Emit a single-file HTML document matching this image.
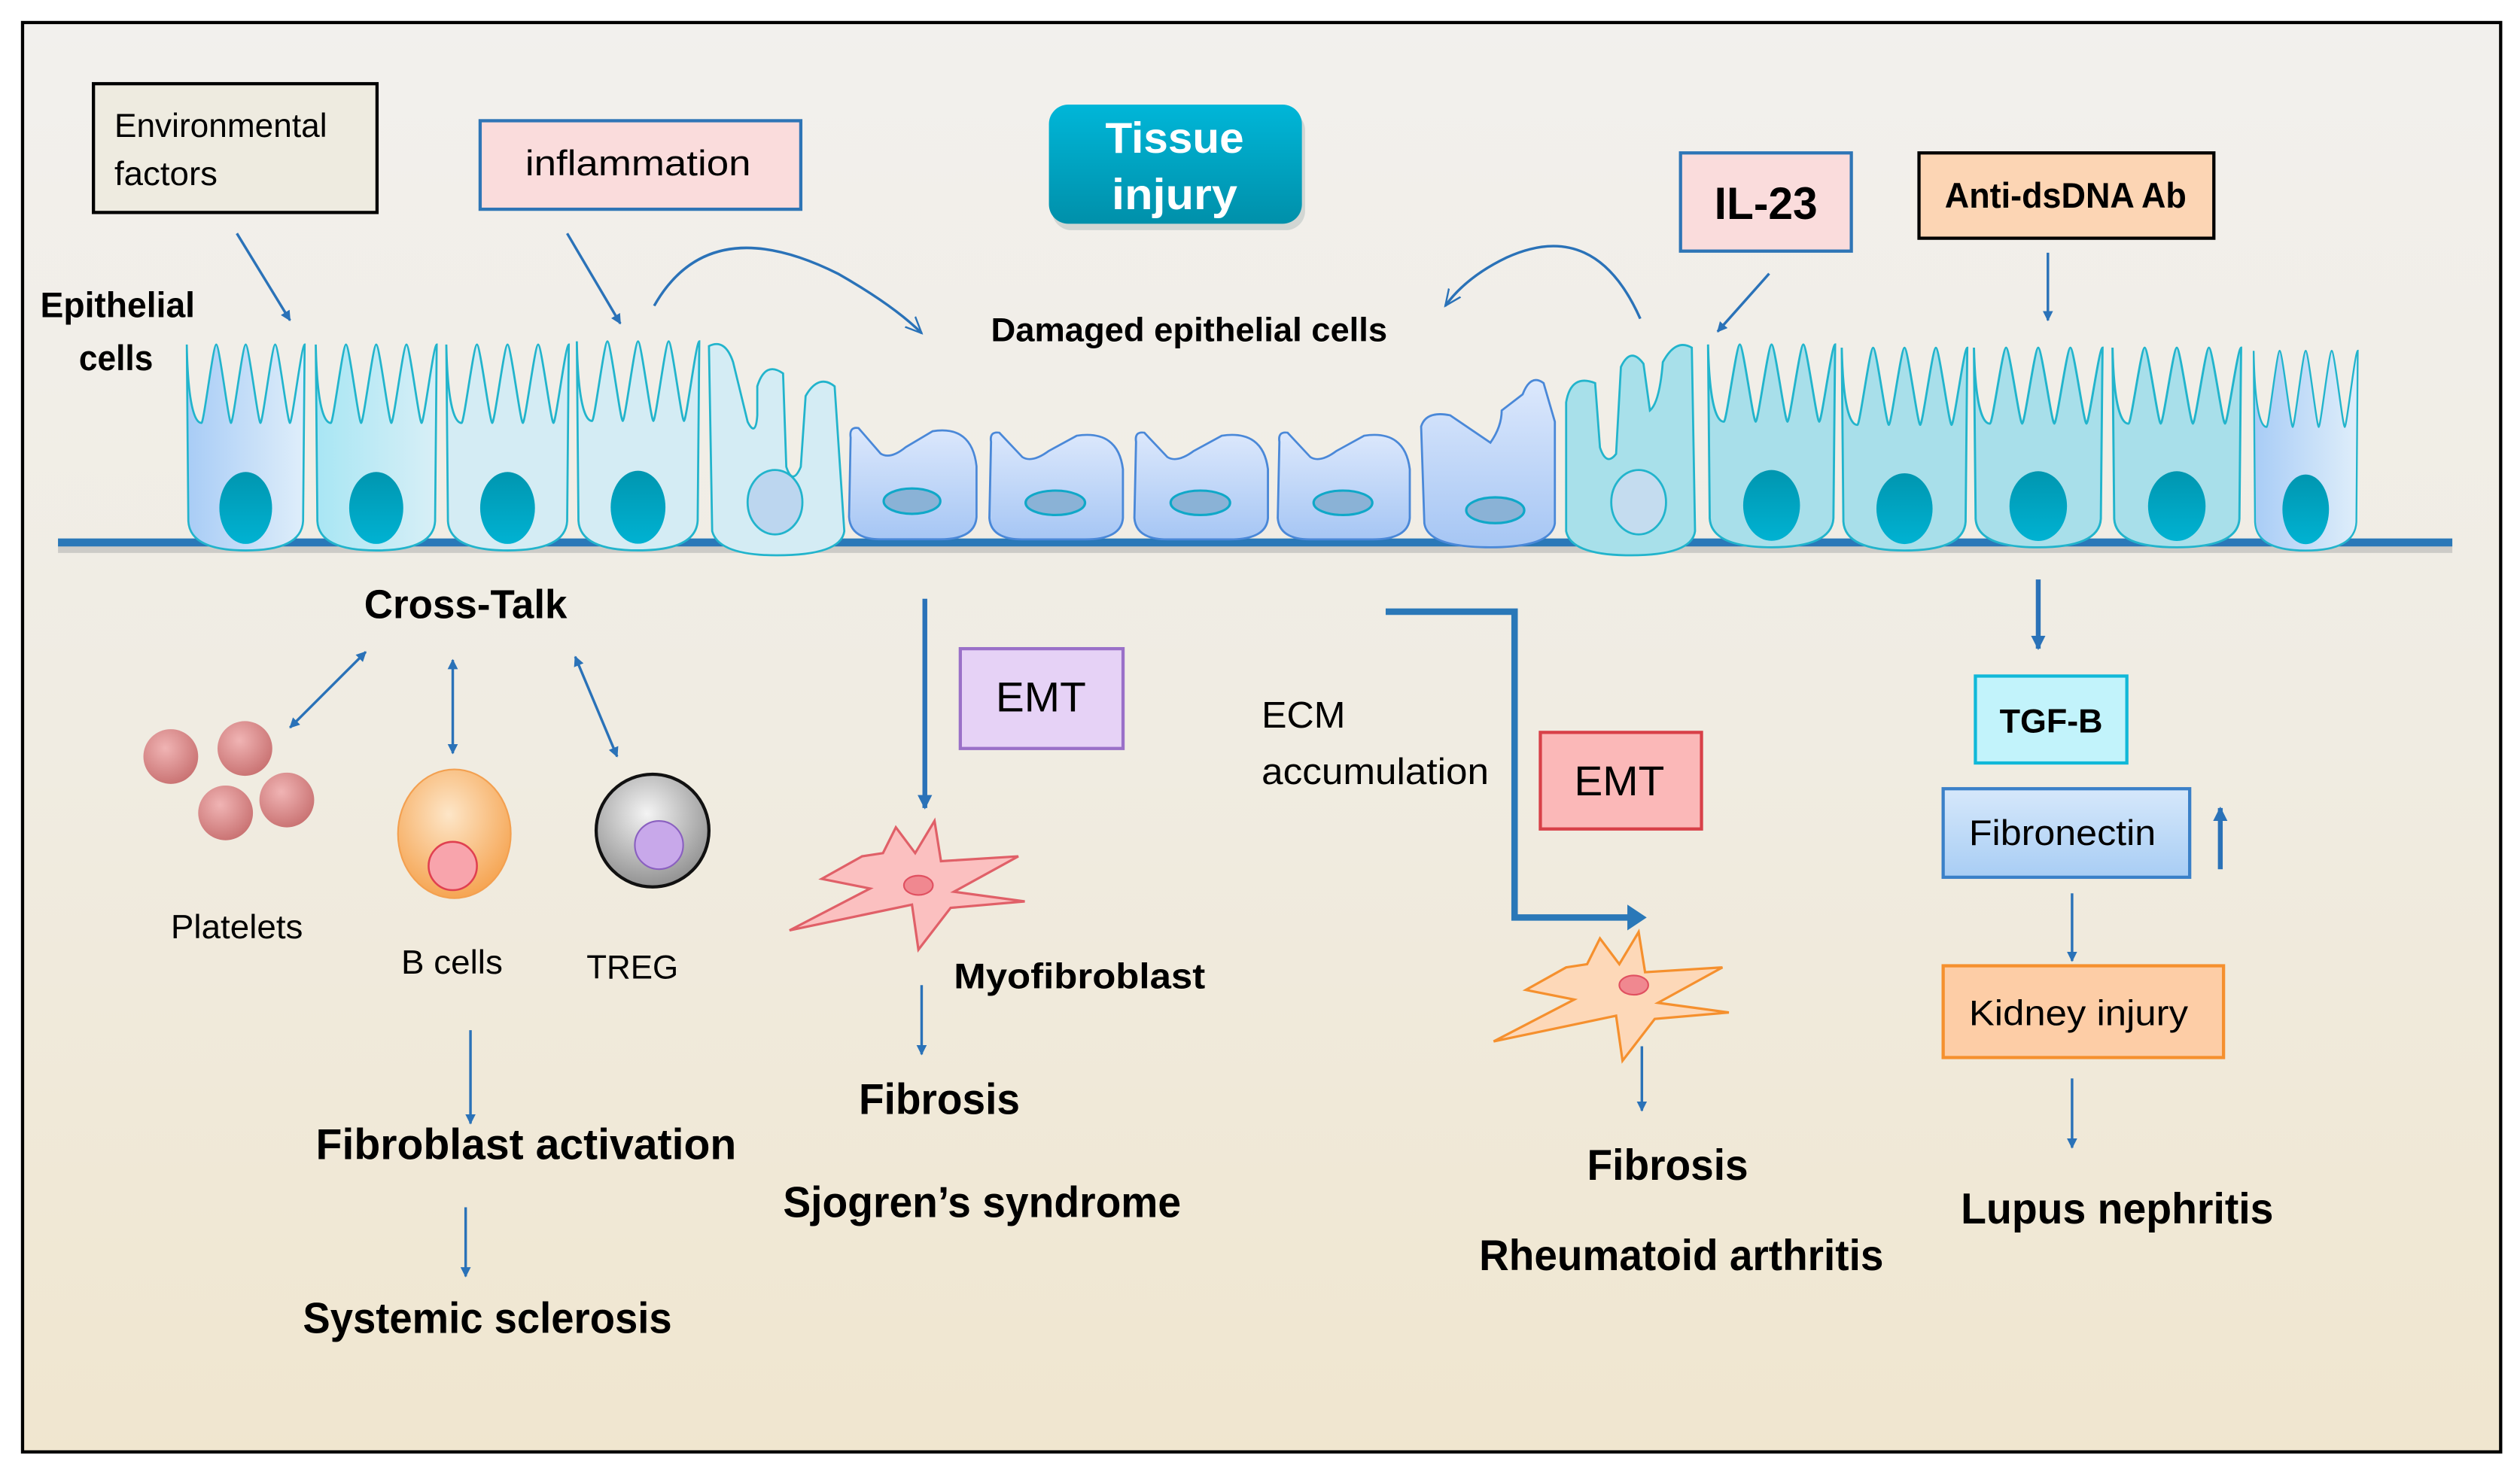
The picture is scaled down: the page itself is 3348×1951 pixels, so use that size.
<!DOCTYPE html>
<html><head><meta charset="utf-8"><style>html,body{margin:0;padding:0;background:#fff}svg{display:block}text{font-family:"Liberation Sans",sans-serif}</style></head><body>
<svg width="3348" height="1951" viewBox="0 0 1564 912" preserveAspectRatio="none" xmlns="http://www.w3.org/2000/svg">
<defs>
<linearGradient id="bg" x1="0" y1="0" x2="0" y2="1"><stop offset="0" stop-color="#f2f0ed"/><stop offset="0.5" stop-color="#f0ece2"/><stop offset="1" stop-color="#f0e6cf"/></linearGradient>
<linearGradient id="tis" x1="0" y1="0" x2="0" y2="1"><stop offset="0" stop-color="#00b6d8"/><stop offset="1" stop-color="#0090aa"/></linearGradient>
<linearGradient id="cellA" x1="0" y1="0" x2="1" y2="0"><stop offset="0" stop-color="#a8ccf6"/><stop offset="1" stop-color="#dfeefa"/></linearGradient>
<linearGradient id="cellB" x1="0" y1="0" x2="1" y2="0"><stop offset="0" stop-color="#a8e6f4"/><stop offset="1" stop-color="#d8eff6"/></linearGradient>
<linearGradient id="cellD" x1="0" y1="0" x2="0" y2="1"><stop offset="0" stop-color="#dce8fc"/><stop offset="1" stop-color="#a6c6f4"/></linearGradient>
<linearGradient id="nuc" x1="0" y1="0" x2="0" y2="1"><stop offset="0" stop-color="#0096b0"/><stop offset="1" stop-color="#00b2d2"/></linearGradient>
<linearGradient id="fib" x1="0" y1="0" x2="0" y2="1"><stop offset="0" stop-color="#d6e8fb"/><stop offset="1" stop-color="#a8cdf4"/></linearGradient>
<radialGradient id="plt" cx="0.4" cy="0.35" r="0.7"><stop offset="0" stop-color="#f0b4b4"/><stop offset="1" stop-color="#c87070"/></radialGradient>
<radialGradient id="bc" cx="0.45" cy="0.35" r="0.7"><stop offset="0" stop-color="#fde6c8"/><stop offset="1" stop-color="#f5a04a"/></radialGradient>
<radialGradient id="tr" cx="0.45" cy="0.35" r="0.7"><stop offset="0" stop-color="#f4f4f4"/><stop offset="1" stop-color="#8a8a8a"/></radialGradient>
<marker id="ah" viewBox="0 0 10 10" refX="9" refY="5" markerWidth="4" markerHeight="4" orient="auto-start-reverse"><path d="M0,0 L10,5 L0,10 Z" fill="#2a72b8"/></marker>
<marker id="ah2" viewBox="0 0 10 10" refX="9" refY="5" markerWidth="3" markerHeight="3" orient="auto"><path d="M0,0 L10,5 L0,10 Z" fill="#2a72b8"/></marker>
<marker id="open" viewBox="0 0 10 10" refX="9" refY="5" markerWidth="7" markerHeight="7" orient="auto"><path d="M0,1 L9,5 L0,9" fill="none" stroke="#2a72b8" stroke-width="1"/></marker>
<symbol id="tall" viewBox="0 0 80 130" preserveAspectRatio="none" overflow="visible">
<path d="M2,2 C3,50 10,50 11.5,50 C13,50 19,2 21,2 C23,2 29,50 30.5,50 C32,50 38,2 40,2 C42,2 48,50 49.5,50 C51,50 57,2 59,2 C61,2 67,50 68.5,50 C70,50 76,2 78,2 L77,110 Q76,128 40,128 Q4,128 3,110 Z" stroke="#22b4cc" stroke-width="1.3"/>
<ellipse cx="40" cy="102" rx="17" ry="22" fill="url(#nuc)"/>
</symbol>
<symbol id="dmg" viewBox="0 0 86 76" preserveAspectRatio="none" overflow="visible">
<path d="M3,10 Q2,3 8,4 L22,20 Q28,24 38,16 L55,6 Q80,2 83,28 L83,60 Q82,74 60,74 L22,74 Q3,74 2,60 Z" fill="url(#cellD)" stroke="#4a88d8" stroke-width="1.3"/>
<ellipse cx="42" cy="50" rx="18" ry="8" fill="#8ab2d6" stroke="#10a8c8" stroke-width="1.5"/>
</symbol>
<symbol id="star" viewBox="-90 -45 180 90" overflow="visible">
<path d="M-80,28 L-30,2 L-60,-4 L-35,-18 L-22,-20 L-14,-36 L-2,-20 L10,-40 L14,-15 L62,-18 L22,4 L66,10 L20,14 L0,40 L-4,12 Z" stroke-width="1.5"/>
</symbol>
</defs>
<rect x="0" y="0" width="1564" height="912" fill="#fff"/>
<rect x="14" y="14" width="1538" height="888" fill="url(#bg)" stroke="#000" stroke-width="2"/>

<!-- top boxes -->
<rect x="58" y="52" width="176" height="80" fill="#eeebe0" stroke="#000" stroke-width="2"/>
<text x="71" y="85" font-size="21" textLength="132" lengthAdjust="spacingAndGlyphs">Environmental</text>
<text x="71" y="115" font-size="21" textLength="64" lengthAdjust="spacingAndGlyphs">factors</text>
<rect x="298" y="75" width="199" height="55" fill="#fadcdc" stroke="#2e75b6" stroke-width="2"/>
<text x="326" y="109" font-size="22" textLength="140" lengthAdjust="spacingAndGlyphs">inflammation</text>
<rect x="653" y="69" width="157" height="74" rx="12" fill="#9aa" opacity="0.35"/>
<rect x="651" y="65" width="157" height="74" rx="12" fill="url(#tis)"/>
<text x="729" y="95" font-size="27" font-weight="bold" fill="#fff" text-anchor="middle" textLength="86" lengthAdjust="spacingAndGlyphs">Tissue</text>
<text x="729" y="130" font-size="27" font-weight="bold" fill="#fff" text-anchor="middle" textLength="78" lengthAdjust="spacingAndGlyphs">injury</text>
<rect x="1043" y="95" width="106" height="61" fill="#fadcdc" stroke="#2e75b6" stroke-width="2"/>
<text x="1096" y="136" font-size="28" font-weight="bold" text-anchor="middle" textLength="64" lengthAdjust="spacingAndGlyphs">IL-23</text>
<rect x="1191" y="95" width="183" height="53" fill="#fcd5b4" stroke="#000" stroke-width="2"/>
<text x="1282" y="129" font-size="22" font-weight="bold" text-anchor="middle" textLength="150" lengthAdjust="spacingAndGlyphs">Anti-dsDNA Ab</text>

<text x="25" y="197" font-size="22" font-weight="bold" textLength="96" lengthAdjust="spacingAndGlyphs">Epithelial</text>
<text x="49" y="230" font-size="22" font-weight="bold" textLength="46" lengthAdjust="spacingAndGlyphs">cells</text>
<text x="615" y="212" font-size="21" font-weight="bold" textLength="246" lengthAdjust="spacingAndGlyphs">Damaged epithelial cells</text>

<!-- arrows to cells -->
<g stroke="#2a72b8" stroke-width="1.6" fill="none">
<line x1="147" y1="145" x2="180" y2="199" marker-end="url(#ah)"/>
<line x1="352" y1="145" x2="385" y2="201" marker-end="url(#ah)"/>
<line x1="1098" y1="170" x2="1066" y2="206" marker-end="url(#ah)"/>
<line x1="1271" y1="157" x2="1271" y2="199" marker-end="url(#ah)"/>
<path d="M406,190 Q440,130 520,170 Q555,190 572,207" marker-end="url(#open)"/>
<path d="M1018,198 Q990,135 935,160 Q910,172 897,190" marker-end="url(#open)"/>
</g>

<!-- basement membrane -->
<line x1="36" y1="341" x2="1522" y2="341" stroke="#aaa" stroke-width="5" opacity="0.5"/>
<line x1="36" y1="337" x2="1522" y2="337" stroke="#2a78b8" stroke-width="5"/>

<!-- tall cells left -->
<use href="#tall" x="114" y="212" width="77" height="132" fill="url(#cellA)"/>
<use href="#tall" x="194" y="212" width="79" height="132" fill="url(#cellB)"/>
<use href="#tall" x="275" y="212" width="80" height="132" fill="#d4ecf4"/>
<use href="#tall" x="356" y="210" width="80" height="134" fill="#d4ecf4"/>
<!-- transitional left -->
<path d="M440,215 Q450,210 455,225 L464,262 Q469,272 470,258 L470,240 Q475,224 486,232 L488,290 Q492,302 497,290 L500,246 Q508,232 518,240 L524,330 Q522,345 482,345 Q446,345 442,330 Z" fill="#d4ecf4" stroke="#22b4cc" stroke-width="1.3"/>
<ellipse cx="481" cy="312" rx="17" ry="20" fill="#bcd6ef" stroke="#22b4cc" stroke-width="1.3"/>
<!-- damaged -->
<use href="#dmg" x="525" y="262" width="84" height="75"/>
<use href="#dmg" x="612" y="265" width="88" height="72"/>
<use href="#dmg" x="702" y="265" width="88" height="72"/>
<use href="#dmg" x="791" y="265" width="87" height="72"/>
<path d="M882,265 Q885,255 900,258 L925,275 Q932,265 932,255 L945,245 Q950,232 958,238 L965,262 L965,325 Q963,340 925,340 Q886,340 884,325 Z" fill="url(#cellD)" stroke="#4a88d8" stroke-width="1.3"/>
<ellipse cx="928" cy="317" rx="18" ry="8" fill="#8ab2d6" stroke="#10a8c8" stroke-width="1.5"/>
<!-- transitional right -->
<path d="M972,250 Q975,232 990,238 L993,278 Q997,290 1003,282 L1006,228 Q1012,215 1020,226 L1024,255 Q1030,250 1032,225 Q1040,210 1050,216 L1052,330 Q1050,345 1012,345 Q975,345 972,330 Z" fill="#a8e0ea" stroke="#22b4cc" stroke-width="1.3"/>
<ellipse cx="1017" cy="312" rx="17" ry="20" fill="#c4dcef" stroke="#22b4cc" stroke-width="1.3"/>
<!-- tall right -->
<use href="#tall" x="1058" y="212" width="83" height="130" fill="#a8dfea"/>
<use href="#tall" x="1141" y="214" width="82" height="130" fill="#a8dfea"/>
<use href="#tall" x="1223" y="214" width="84" height="128" fill="#a8dfea"/>
<use href="#tall" x="1309" y="214" width="84" height="128" fill="#a8dfea"/>
<use href="#tall" x="1397" y="216" width="68" height="128" fill="url(#cellA)"/>

<!-- cross talk -->
<text x="226" y="384" font-size="25" font-weight="bold" textLength="126" lengthAdjust="spacingAndGlyphs">Cross-Talk</text>
<g stroke="#2a72b8" stroke-width="1.6">
<line x1="180" y1="452" x2="227" y2="405" marker-start="url(#ah)" marker-end="url(#ah)"/>
<line x1="281" y1="410" x2="281" y2="468" marker-start="url(#ah)" marker-end="url(#ah)"/>
<line x1="357" y1="408" x2="383" y2="470" marker-start="url(#ah)" marker-end="url(#ah)"/>
<line x1="292" y1="640" x2="292" y2="698" marker-end="url(#ah)"/>
<line x1="289" y1="750" x2="289" y2="793" marker-end="url(#ah)"/>
<line x1="572" y1="612" x2="572" y2="655" marker-end="url(#ah)"/>
<line x1="1019" y1="650" x2="1019" y2="690" marker-end="url(#ah)"/>
<line x1="1286" y1="555" x2="1286" y2="597" marker-end="url(#ah)"/>
<line x1="1286" y1="670" x2="1286" y2="713" marker-end="url(#ah)"/>
</g>
<circle cx="106" cy="470" r="17" fill="url(#plt)"/>
<circle cx="152" cy="465" r="17" fill="url(#plt)"/>
<circle cx="140" cy="505" r="17" fill="url(#plt)"/>
<circle cx="178" cy="497" r="17" fill="url(#plt)"/>
<ellipse cx="282" cy="518" rx="35" ry="40" fill="url(#bc)" stroke="#f3a050" stroke-width="1"/>
<circle cx="281" cy="538" r="15" fill="#f8a4ac" stroke="#e04050" stroke-width="1.2"/>
<circle cx="405" cy="516" r="35" fill="url(#tr)" stroke="#111" stroke-width="2"/>
<circle cx="409" cy="525" r="15" fill="#c8a8ea" stroke="#8a60c0" stroke-width="1"/>
<text x="106" y="583" font-size="21" textLength="82" lengthAdjust="spacingAndGlyphs">Platelets</text>
<text x="249" y="605" font-size="21" textLength="63" lengthAdjust="spacingAndGlyphs">B cells</text>
<text x="364" y="608" font-size="21" textLength="57" lengthAdjust="spacingAndGlyphs">TREG</text>
<text x="196" y="720" font-size="27" font-weight="bold" textLength="261" lengthAdjust="spacingAndGlyphs">Fibroblast activation</text>
<text x="188" y="828" font-size="27" font-weight="bold" textLength="229" lengthAdjust="spacingAndGlyphs">Systemic sclerosis</text>

<!-- middle -->
<line x1="574" y1="372" x2="574" y2="502" stroke="#2a72b8" stroke-width="3" marker-end="url(#ah2)"/>
<rect x="596" y="403" width="101" height="62" fill="#e6d2f6" stroke="#9a70c8" stroke-width="2"/>
<text x="646" y="442" font-size="26" text-anchor="middle" textLength="56" lengthAdjust="spacingAndGlyphs">EMT</text>
<use href="#star" x="480" y="505" width="180" height="90" fill="#fbc0c0" stroke="#e06068"/>
<ellipse cx="570" cy="550" rx="9" ry="6" fill="#f08890" stroke="#e05060"/>
<text x="592" y="614" font-size="22" font-weight="bold" textLength="156" lengthAdjust="spacingAndGlyphs">Myofibroblast</text>
<text x="533" y="692" font-size="27" font-weight="bold" textLength="100" lengthAdjust="spacingAndGlyphs">Fibrosis</text>
<text x="486" y="756" font-size="27" font-weight="bold" textLength="247" lengthAdjust="spacingAndGlyphs">Sjogren’s syndrome</text>

<!-- ECM -->
<path d="M860,380 L940,380 L940,570 L1012,570" fill="none" stroke="#2a78b8" stroke-width="4"/>
<path d="M1010,562 L1022,570 L1010,578 Z" fill="#2a78b8"/>
<text x="783" y="452" font-size="23" textLength="52" lengthAdjust="spacingAndGlyphs">ECM</text>
<text x="783" y="487" font-size="23" textLength="141" lengthAdjust="spacingAndGlyphs">accumulation</text>
<rect x="956" y="455" width="100" height="60" fill="#fbb8b8" stroke="#d84048" stroke-width="2"/>
<text x="1005" y="494" font-size="26" text-anchor="middle" textLength="56" lengthAdjust="spacingAndGlyphs">EMT</text>
<use href="#star" x="917" y="574" width="180" height="90" fill="#fdd8b8" stroke="#f5902e"/>
<ellipse cx="1014" cy="612" rx="9" ry="6" fill="#f08890" stroke="#e05060"/>
<text x="985" y="733" font-size="27" font-weight="bold" textLength="100" lengthAdjust="spacingAndGlyphs">Fibrosis</text>
<text x="918" y="789" font-size="27" font-weight="bold" textLength="251" lengthAdjust="spacingAndGlyphs">Rheumatoid arthritis</text>

<!-- right -->
<line x1="1265" y1="360" x2="1265" y2="403" stroke="#2a72b8" stroke-width="3" marker-end="url(#ah2)"/>
<rect x="1226" y="420" width="94" height="54" fill="#c2f3fb" stroke="#10b8d8" stroke-width="2"/>
<text x="1273" y="455" font-size="21" font-weight="bold" text-anchor="middle" textLength="64" lengthAdjust="spacingAndGlyphs">TGF-B</text>
<rect x="1206" y="490" width="153" height="55" fill="url(#fib)" stroke="#3a80c8" stroke-width="2"/>
<text x="1222" y="525" font-size="22" textLength="116" lengthAdjust="spacingAndGlyphs">Fibronectin</text>
<line x1="1378" y1="540" x2="1378" y2="502" stroke="#2a72b8" stroke-width="3" marker-end="url(#ah2)"/>
<rect x="1206" y="600" width="174" height="57" fill="#fdcda6" stroke="#f5902e" stroke-width="2"/>
<text x="1222" y="637" font-size="22" textLength="136" lengthAdjust="spacingAndGlyphs">Kidney injury</text>
<text x="1217" y="760" font-size="27" font-weight="bold" textLength="194" lengthAdjust="spacingAndGlyphs">Lupus nephritis</text>
</svg>
</body></html>
